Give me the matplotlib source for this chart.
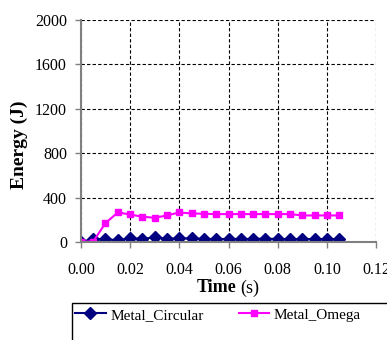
import matplotlib
matplotlib.use("Agg")
import matplotlib.pyplot as plt
from matplotlib.patches import Rectangle

time = [0.000, 0.005, 0.010, 0.015, 0.020, 0.025, 0.030, 0.035, 0.040, 0.045, 0.050,
        0.055, 0.060, 0.065, 0.070, 0.075, 0.080, 0.085, 0.090, 0.095, 0.100, 0.105]
circular = [0, 30, 24, 18, 33, 30, 42, 30, 33, 33, 28,
            28, 28, 28, 28, 32, 27, 27, 27, 27, 27, 27]
omega = [5, 5, 171, 267, 249, 228, 219, 240, 267, 258, 255,
         252, 252, 252, 252, 252, 252, 252, 240, 240, 240, 240]

plt.rcParams['font.family'] = 'Liberation Serif'

fig = plt.figure(figsize=(3.87, 3.40), dpi=100)
ax = fig.add_axes([0.209, 0.288, 0.763, 0.653])

ax.plot(time, circular, color="#000080", marker="D", markersize=6, linewidth=1.5,
        label="Metal_Circular")
ax.plot(time, omega, color="#FF00FF", marker="s", markersize=4.5, linewidth=1.5,
        label="Metal_Omega")

ax.set_xlim(0, 0.12)
ax.set_ylim(0, 2000)
ax.set_xticks([0, 0.02, 0.04, 0.06, 0.08, 0.10, 0.12])
ax.set_xticklabels(["0.00", "0.02", "0.04", "0.06", "0.08", "0.10", "0.12"])
ax.set_yticks(range(0, 2001, 400))
ax.grid(True, color="black", linestyle=(0, (3, 2)), linewidth=0.8)
ax.set_axisbelow(True)

for s in ["top", "right"]:
    ax.spines[s].set_visible(False)
for s in ["left", "bottom"]:
    ax.spines[s].set_color("#808080")
    ax.spines[s].set_linewidth(1.5)
ax.tick_params(colors="#808080", labelcolor="black", length=4, width=1, labelsize=11.5)
ax.tick_params(axis="x", pad=10)
ax.tick_params(axis="y", pad=6)

ax.set_ylabel("Energy (J)", fontsize=14, fontweight="bold")
ax.yaxis.set_label_coords(-0.18, 0.437)
fig.text(0.612, 0.153, "Time", fontsize=13, fontweight="bold", ha="right", va="center")
fig.text(0.622, 0.153, "(s)", fontsize=13, ha="left", va="center")

leg_box = Rectangle((0.185, -0.1), 0.9, 0.21, transform=fig.transFigure,
                    facecolor="white", edgecolor="black", linewidth=1, clip_on=False)
fig.patches.append(leg_box)
fig.legend(loc="upper left", bbox_to_anchor=(0.194, 0.094), ncol=2, frameon=False,
           prop={"size": 11}, handlelength=2.0, columnspacing=2.3,
           handletextpad=0.3, borderaxespad=0, borderpad=0)

fig.savefig("out.png", dpi=100)
